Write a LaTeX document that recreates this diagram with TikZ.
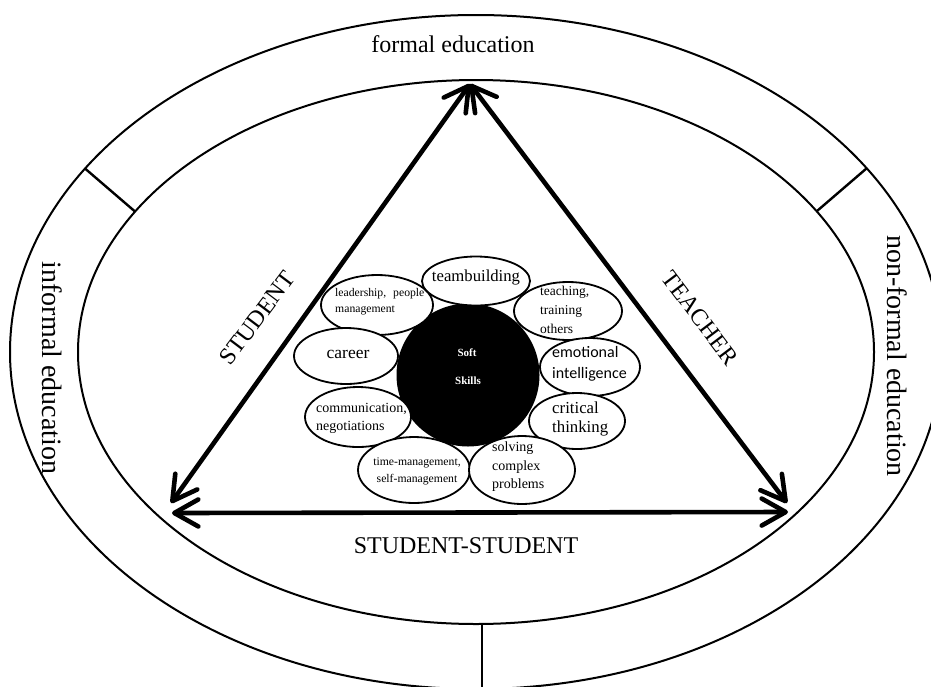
\documentclass[tikz,border=0pt]{standalone}
\usepackage{fontspec}
\setmainfont{Liberation Serif}
\newfontfamily\calibrifont{Carlito}
\usetikzlibrary{shapes.geometric,arrows.meta}
\begin{document}
\begin{tikzpicture}[x=1pt,y=-1pt,
  ring/.style={line width=2pt},
  divider/.style={line width=2.4pt},
  sat/.style={ellipse, draw, line width=1.8pt, fill=white, inner sep=0pt},
  core/.style={ellipse, fill=black, inner sep=0pt},
  barb/.tip={Straight Barb[length=24pt,width=27pt,round]},
  rel/.style={line width=4.6pt, line cap=round, barb-barb},
  lbl/.style={inner sep=0pt},
  big/.style={lbl, font=\fontsize{24}{28}\selectfont},
  side/.style={lbl, font=\fontsize{28}{32}\selectfont, rotate=-90},
]
\useasboundingbox (0,0) rectangle (931,686);
\clip (0,0) rectangle (931,686);
\fill[white] (0,0) rectangle (931,686);

% rings
\draw[ring] (476,352) ellipse [x radius=466, y radius=337];
\draw[ring] (476,352) ellipse [x radius=398, y radius=272];
\coordinate (ldo) at (85,168.5);
\coordinate (ldi) at (135,211.5);
\coordinate (rdo) at (867,168);
\coordinate (rdi) at (817,211);
\coordinate (bdi) at (482,624);
\coordinate (bdo) at (482,690);
\draw[divider] (ldo) -- (ldi);
\draw[divider] (rdo) -- (rdi);
\draw[divider] (bdi) -- (bdo);

% ring labels
\node[big] (formal) at (453,44) {formal education};
\node[side] (informal) at (52,368) {informal education};
\node[side] (nonformal) at (897,356) {non-formal education};

% triangle
\coordinate (apex) at (470,84);
\coordinate (blA) at (171,503);
\coordinate (brA) at (787,503);
\coordinate (blB) at (172,513);
\coordinate (brB) at (788,512);
\draw[rel] (apex) -- (blA);
\draw[rel] (apex) -- (brA);
\draw[rel] (blB) -- (brB);

\node[big, rotate=53] (student) at (257,318) {STUDENT};
\node[big, rotate=-53] (teacher) at (700,318) {TEACHER};
\node[big] (ss) at (466,546) {STUDENT-STUDENT};

% soft skills core
\node[core, minimum width=143pt, minimum height=143pt] (soft) at (468,375) {};

% satellites
\node[sat, minimum width=112pt, minimum height=60pt] (lead) at (377,305) {};
\node[sat, minimum width=108pt, minimum height=58pt] (teach) at (568,311) {};
\node[sat, minimum width=104pt, minimum height=56pt] (career) at (346,356) {};
\node[sat, minimum width=100pt, minimum height=58pt] (emo) at (590,367) {};
\node[sat, minimum width=106pt, minimum height=60pt] (comm) at (358,417) {};
\node[sat, minimum width=96pt, minimum height=56pt] (crit) at (577,421) {};
\node[sat, minimum width=112pt, minimum height=66pt] (time) at (414,470) {};
\node[sat, minimum width=106pt, minimum height=68pt] (solve) at (522,470) {};
\node[sat, minimum width=108pt, minimum height=49pt] (team) at (476,281) {};

% texts
\node[lbl, text=white, font=\bfseries\fontsize{11}{13}\selectfont] (softA) at (467,353) {Soft};
\node[lbl, text=white, font=\bfseries\fontsize{11}{13}\selectfont] (softB) at (468,381) {Skills};
\node[lbl, font=\fontsize{16.7}{20}\selectfont] (teamT) at (476,278) {teambuilding};
\node[lbl, anchor=west, align=left, font=\fontsize{11.7}{16}\selectfont] (leadT) at (335,302) {leadership,\hspace{0.6em}people\\management};
\node[lbl, anchor=west, align=left, font=\fontsize{13.5}{19}\selectfont] (teachT) at (540,310) {teaching,\\training\\others};
\node[lbl, font=\fontsize{17.5}{20}\selectfont] (careerT) at (348,354) {career};
\node[lbl, anchor=west, align=left, font=\calibrifont\fontsize{16}{21}\selectfont] (emoT) at (552,364) {emotional\\intelligence};
\node[lbl, anchor=west, align=left, font=\fontsize{14}{18}\selectfont] (commT) at (316,418) {communication,\\negotiations};
\node[lbl, anchor=west, align=left, font=\fontsize{16.8}{19}\selectfont] (critT) at (552,419) {critical\\thinking};
\node[lbl, align=center, font=\fontsize{11.7}{17}\selectfont] (timeT) at (417,471) {time-management,\\self-management};
\node[lbl, anchor=west, align=left, font=\fontsize{14}{18.5}\selectfont] (solveT) at (492,467) {solving\\complex\\problems};
\end{tikzpicture}
\end{document}
